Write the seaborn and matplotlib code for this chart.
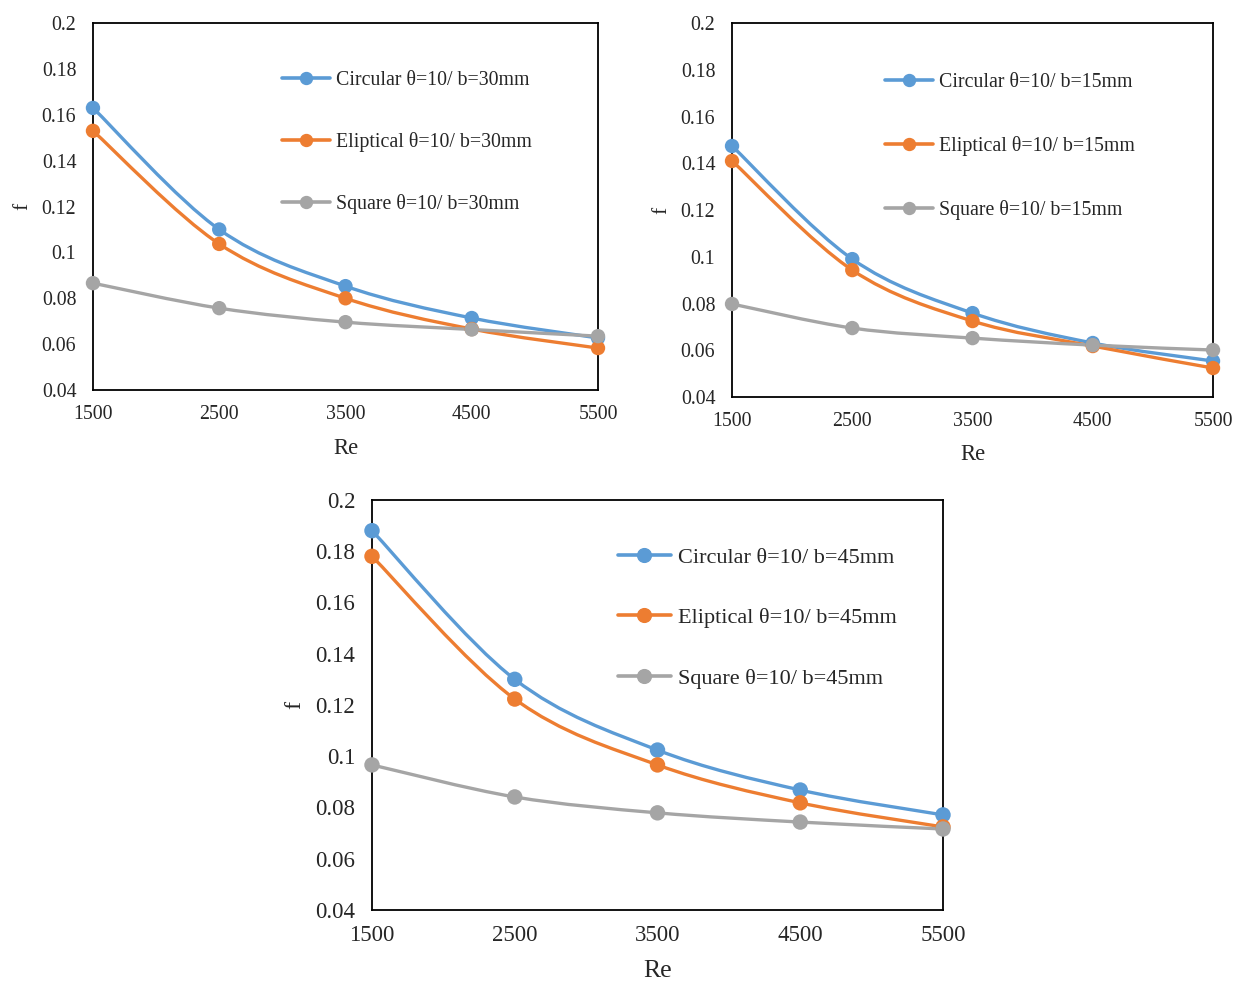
import numpy as np
import pandas as pd
import matplotlib
matplotlib.use('Agg')
import matplotlib.pyplot as plt
import seaborn as sns
from matplotlib.path import Path
from matplotlib.patches import PathPatch
from matplotlib.lines import Line2D

# Reynolds numbers (x axis)
re_values = [1500, 2500, 3500, 4500, 5500]
shapes = ['Circular', 'Eliptical', 'Square']

# friction factor f, b = 30 mm
circular_b30 = [0.163, 0.110, 0.0853, 0.0714, 0.0627]
eliptical_b30 = [0.153, 0.1037, 0.080, 0.0666, 0.0583]
square_b30 = [0.0866, 0.0757, 0.0696, 0.0664, 0.0635]

# friction factor f, b = 15 mm
circular_b15 = [0.1474, 0.099, 0.0759, 0.0631, 0.0554]
eliptical_b15 = [0.141, 0.0943, 0.0725, 0.0618, 0.0524]
square_b15 = [0.0798, 0.0695, 0.0652, 0.0622, 0.0601]

# friction factor f, b = 45 mm
circular_b45 = [0.188, 0.130, 0.1024, 0.0868, 0.0771]
eliptical_b45 = [0.178, 0.1223, 0.0966, 0.0818, 0.0724]
square_b45 = [0.0966, 0.0841, 0.0779, 0.0743, 0.0716]

y_ticks = [0.04, 0.06, 0.08, 0.1, 0.12, 0.14, 0.16, 0.18, 0.2]
y_tick_labels = ['0.04', '0.06', '0.08', '0.1', '0.12', '0.14', '0.16', '0.18', '0.2']

colors = {'Circular': '#5B9BD5', 'Eliptical': '#ED7D31', 'Square': '#A5A5A5'}

sns.set_style('white')
plt.rcParams['font.family'] = ['Liberation Serif', 'DejaVu Serif']


def smooth_path(xs, ys):
    # Excel-style smoothed line (Catmull-Rom as cubic Bezier segments)
    pts = np.column_stack([xs, ys]).astype(float)
    n = len(pts)
    verts = [pts[0]]
    codes = [Path.MOVETO]
    for i in range(n - 1):
        p0 = pts[i - 1] if i > 0 else pts[i]
        p1 = pts[i]
        p2 = pts[i + 1]
        p3 = pts[i + 2] if i + 2 < n else pts[i + 1]
        verts += [p1 + (p2 - p0) / 6, p2 - (p3 - p1) / 6, p2]
        codes += [Path.CURVE4] * 3
    return Path(verts, codes)


def draw_panel(ax, series, b, fs, leg_fs, leg_anchor, leg_spacing, re_pad):
    frames = []
    for name, vals in zip(shapes, series):
        frames.append(pd.DataFrame({'Re': re_values, 'f': vals, 'shape': name}))
    df = pd.concat(frames)

    for name in shapes:
        sub = df[df['shape'] == name]
        patch = PathPatch(smooth_path(sub['Re'], sub['f']), facecolor='none',
                          edgecolor=colors[name], lw=2.4, zorder=2, clip_on=False)
        ax.add_patch(patch)

    sns.scatterplot(data=df, x='Re', y='f', hue='shape', palette=colors,
                    s=fs * 7.5, edgecolor='none', legend=False, ax=ax,
                    zorder=3, clip_on=False)

    ax.set_xlim(1500, 5500)
    ax.set_ylim(0.04, 0.2)
    ax.set_xticks(re_values)
    ax.set_xticklabels([str(v) for v in re_values], fontsize=fs)
    ax.set_yticks(y_ticks)
    ax.set_yticklabels(y_tick_labels, fontsize=fs)
    ax.tick_params(axis='x', length=0, pad=10.5)
    ax.tick_params(axis='y', length=0, pad=12)
    ax.set_xlabel('Re', fontsize=fs + 2, labelpad=re_pad)
    ax.set_ylabel('f', fontsize=fs + 1, labelpad=7)
    for sp in ax.spines.values():
        sp.set_color('black')
        sp.set_linewidth(1.3)

    handles = [Line2D([0], [0], color=colors[n], lw=2.6, marker='o', markersize=fs * 0.6)
               for n in shapes]
    labels = [f'{n} \u03b8=10/ b={b}mm' for n in shapes]
    ax.legend(handles, labels, loc='upper left', bbox_to_anchor=leg_anchor,
              frameon=False, fontsize=leg_fs, handlelength=2.4, handletextpad=0.3,
              labelspacing=leg_spacing, borderpad=0, borderaxespad=0)


fig = plt.figure(figsize=(12.33, 9.81), dpi=100)
ax1 = fig.add_axes([0.0754, 0.6024, 0.4096, 0.3741])
ax2 = fig.add_axes([0.5937, 0.5953, 0.3901, 0.3812])
ax3 = fig.add_axes([0.3017, 0.0724, 0.4631, 0.4180])

draw_panel(ax1, [circular_b30, eliptical_b30, square_b30], 30, 14.3, 14.3, (0.375, 0.869), 2.1, 10.5)
draw_panel(ax2, [circular_b15, eliptical_b15, square_b15], 15, 14.3, 14.3, (0.318, 0.866), 2.2, 10)
draw_panel(ax3, [circular_b45, eliptical_b45, square_b45], 45, 16.5, 16, (0.43, 0.885), 1.8, 10.5)

fig.savefig('out.png', dpi=100)
